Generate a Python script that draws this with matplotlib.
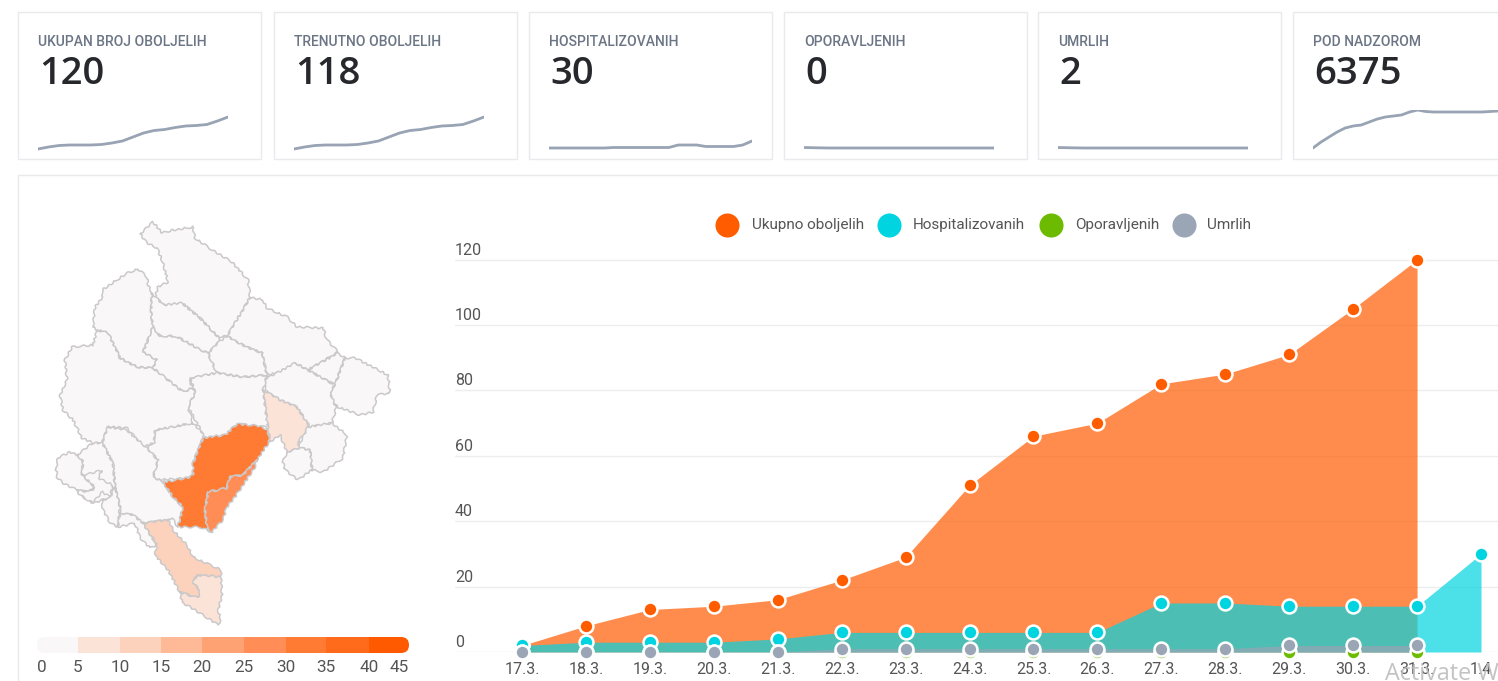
"""
Dashboard snapshot: six summary cards, a municipality map and the case history chart.
"""
import matplotlib
matplotlib.use("Agg")
import matplotlib.pyplot as plt
from matplotlib.patches import Polygon, Rectangle, FancyBboxPatch
from matplotlib.transforms import ScaledTranslation

plt.rcParams["font.family"] = ["Roboto", "DejaVu Sans"]

W, H = 1498, 681

# summary cards
CARD_LABELS = ["UKUPAN BROJ OBOLJELIH", "TRENUTNO OBOLJELIH", "HOSPITALIZOVANIH",
               "OPORAVLJENIH", "UMRLIH", "POD NADZOROM"]
CARD_VALUES = ["120", "118", "30", "0", "2", "6375"]
CARD_LEFT = [18, 274, 529, 784, 1038, 1293]
CARD_WIDTH = 243

# sparklines, height above the card's baseline
SPARK_TOTAL = [1, 3, 4.5, 5, 5, 5, 5.5, 7, 9, 13, 17, 19.5, 20.5, 22.5, 24, 24.5, 25.5, 29, 33]
SPARK_HOSP = [2, 2, 2, 2, 2, 2, 2, 2.5, 2.5, 2.5, 2.5, 2.5, 2.5, 2.5, 5, 5, 5, 3.5, 3.5, 3.5, 3.5, 5, 9]
SPARK_FLAT = [2.5, 2.2, 2, 2, 2, 2, 2, 2, 2, 2, 2, 2, 2, 2, 2, 2]
SPARK_WATCH = [2, 8, 13, 18, 22, 24, 25, 28, 31, 33, 34, 35, 38, 40, 38.5, 38, 38, 38, 38, 38, 38, 38, 38.5, 39]
SPARKS = [SPARK_TOTAL, SPARK_TOTAL, SPARK_HOSP, SPARK_FLAT, SPARK_FLAT, SPARK_WATCH]
SPARK_SPANS = [(38, 228), (294, 484), (549, 752), (804, 994), (1058, 1248), (1313, 1498)]

# history chart
DATES = ["17.3.", "18.3.", "19.3.", "20.3.", "21.3.", "22.3.", "23.3.", "24.3.",
         "25.3.", "26.3.", "27.3.", "28.3.", "29.3.", "30.3.", "31.3.", "1.4"]
TOTAL = [2, 8, 13, 14, 16, 22, 29, 51, 66, 70, 82, 85, 91, 105, 120]
HOSPITAL = [2, 3, 3, 3, 4, 6, 6, 6, 6, 6, 15, 15, 14, 14, 14, 30]
RECOVERED = [0, 0, 0, 0, 0, 0, 0, 0, 0, 0, 0, 0, 0, 0, 0]
DEAD = [0, 0, 0, 0, 0, 1, 1, 1, 1, 1, 1, 1, 2, 2, 2]
Y_TICKS = [0, 20, 40, 60, 80, 100, 120]

ORANGE = "#FF5C00"
CYAN = "#00D4E0"
GREEN = "#6CBB00"
GREY = "#9AA5B5"

SERIES_NAMES = ["Ukupno oboljelih", "Hospitalizovanih", "Oporavljenih", "Umrlih"]
SERIES_COLORS = [ORANGE, CYAN, GREEN, GREY]

# map scale
SCALE_TICKS = [0, 5, 10, 15, 20, 25, 30, 35, 40, 45]
SCALE_COLORS = ["#FAF7F8", "#FCE3D8", "#FDD2BD", "#FEB997", "#FEA274",
                "#FF8D55", "#FF7A33", "#FF6A1B", "#FF5A00"]
SCALE_EDGES = [37, 78, 120, 161, 202, 244, 286, 326, 369, 409]

# municipality outlines
PLJEVLJA = [(140, 234), (153, 222), (162, 233), (173, 230), (193, 227), (195, 238), (212, 250), (232, 262),
            (248, 280), (250, 297), (243, 310), (227, 336), (218, 337), (200, 318), (182, 303), (167, 307),
            (155, 297), (158, 287), (168, 282), (162, 260), (157, 248), (147, 243)]
PLUZINE = [(93, 327), (95, 307), (103, 297), (102, 290), (127, 273), (138, 269), (147, 277), (148, 285),
           (152, 293), (151, 310), (153, 327), (143, 352), (157, 360), (153, 368), (137, 367), (120, 358),
           (108, 333), (97, 330)]
SAVNIK = [(153, 327), (143, 352), (157, 360), (153, 368), (183, 392), (193, 388), (189, 380), (217, 373),
          (208, 353), (197, 348), (187, 342), (175, 336), (160, 336)]
ZABLJAK = [(152, 293), (163, 305), (182, 303), (200, 318), (218, 337), (219, 342), (208, 353), (197, 348),
           (187, 342), (175, 336), (160, 336), (153, 327), (151, 310)]
BIJELO_POLJE = [(227, 336), (243, 310), (250, 297), (263, 300), (267, 308), (287, 317), (297, 327), (323, 328),
                (327, 340), (338, 352), (308, 370), (295, 363), (292, 370), (267, 375), (262, 353), (247, 347),
                (233, 340)]
MOJKOVAC = [(208, 353), (219, 342), (227, 336), (233, 340), (247, 347), (262, 353), (267, 375), (243, 377),
            (217, 373)]
PETNJICA = [(308, 370), (338, 353), (345, 358), (335, 385), (322, 378)]
ROZAJE = [(345, 358), (355, 358), (388, 375), (390, 393), (377, 395), (373, 412), (360, 415), (338, 407),
          (332, 403), (330, 390), (335, 385)]
BERANE = [(263, 380), (277, 373), (295, 363), (308, 370), (335, 385), (330, 392), (336, 408), (332, 423),
          (310, 427), (297, 407), (280, 400), (267, 392)]
ANDRIJEVICA = [(263, 390), (267, 392), (280, 400), (297, 407), (310, 427), (298, 442), (300, 448), (287, 452),
               (280, 435), (270, 442), (268, 428)]
KOLASIN = [(190, 378), (217, 373), (243, 377), (267, 375), (263, 390), (268, 428), (260, 426), (237, 424),
           (225, 435), (203, 438), (202, 432), (188, 407), (195, 392)]
DANILOVGRAD = [(155, 430), (193, 423), (203, 433), (203, 438), (193, 463), (193, 475), (187, 478), (160, 480),
               (153, 477), (158, 460), (147, 448), (154, 442)]
NIKSIC = [(97, 330), (108, 333), (120, 358), (137, 367), (153, 368), (183, 392), (193, 388), (195, 393),
          (188, 407), (193, 423), (155, 430), (154, 443), (143, 447), (127, 428), (108, 427), (102, 443),
          (93, 443), (82, 438), (73, 420), (63, 410), (60, 395), (67, 380), (65, 360), (72, 347), (93, 345)]
CETINJE = [(102, 443), (108, 427), (127, 430), (147, 448), (158, 460), (153, 477), (163, 482), (173, 497),
           (183, 507), (178, 527), (172, 518), (168, 520), (143, 523), (133, 515), (120, 513), (120, 507),
           (115, 487), (113, 463), (105, 448)]
HERCEG_NOVI = [(56, 468), (58, 458), (70, 452), (77, 455), (83, 461), (82, 475), (90, 482), (95, 488),
               (88, 492), (77, 490), (63, 483), (57, 477)]
KOTOR = [(77, 455), (93, 443), (102, 443), (105, 448), (113, 463), (115, 487), (110, 498), (102, 500),
         (93, 503), (80, 495), (77, 490), (88, 492), (95, 488), (90, 482), (82, 475), (83, 461)]
BUDVA = [(102, 500), (110, 498), (115, 487), (120, 507), (118, 527), (110, 523), (103, 510)]
COAST_STRIP = [(120, 513), (133, 515), (143, 523), (157, 545), (150, 548), (140, 538), (135, 523), (118, 527)]
BAR = [(143, 523), (168, 520), (173, 530), (187, 545), (193, 557), (210, 565), (221, 570), (221, 577),
       (197, 575), (193, 583), (200, 590), (198, 598), (180, 592), (168, 570), (155, 555), (157, 545)]
ULCINJ = [(197, 575), (221, 577), (222, 597), (218, 610), (221, 620), (218, 625), (203, 615), (182, 602),
          (180, 592), (198, 598), (200, 590), (193, 583)]
PODGORICA = [(268, 430), (269, 442), (257, 460), (243, 475), (230, 477), (227, 488), (208, 492), (205, 510),
             (207, 527), (212, 532), (200, 527), (178, 527), (183, 507), (173, 497), (163, 482), (187, 478),
             (193, 475), (193, 463), (203, 438), (225, 435), (237, 424), (260, 426)]
TUZI = [(257, 460), (255, 467), (243, 485), (233, 500), (227, 507), (223, 520), (212, 532), (207, 527),
        (205, 510), (208, 492), (227, 488), (230, 477), (243, 475)]
PLAV = [(300, 443), (308, 427), (332, 423), (347, 435), (343, 458), (323, 472), (312, 470), (310, 450),
        (300, 448)]
GUSINJE = [(287, 452), (300, 448), (310, 450), (312, 470), (298, 480), (285, 470), (283, 462)]
BAY = [(82, 475), (93, 473), (102, 470), (98, 478), (113, 485), (110, 497), (102, 492), (93, 503), (80, 495),
       (77, 490), (88, 492), (95, 488), (90, 482)]

MAP_REGIONS = [PLJEVLJA, PLUZINE, SAVNIK, ZABLJAK, BIJELO_POLJE, MOJKOVAC, PETNJICA, ROZAJE, BERANE, ANDRIJEVICA,
               KOLASIN, DANILOVGRAD, NIKSIC, CETINJE, HERCEG_NOVI, KOTOR, BUDVA, COAST_STRIP, BAR, ULCINJ,
               PODGORICA, TUZI, PLAV, GUSINJE]
MAP_CASES = [0, 0, 0, 0, 0, 0, 0, 0, 0, 6, 0, 0, 0, 0, 0, 0, 0, 0, 11, 7, 32, 27, 0, 0]


def draw_cards(bg, fig):
    for left, label, value, spark, span in zip(CARD_LEFT, CARD_LABELS, CARD_VALUES, SPARKS, SPARK_SPANS):
        bg.add_patch(Rectangle((left, 12), CARD_WIDTH, 147, fc="white", ec="#E8EAEE", lw=1))
        bg.text(left + 20, 42, label, color="#6B7585", fontsize=10, weight="medium", va="center")
        bg.text(left + 21, 84, value, color="#26282C", fontsize=27.5, weight="semibold",
                family=["Open Sans", "DejaVu Sans"], va="baseline")

        # the sparkline sits in its own little axes
        sp = fig.add_axes([span[0] / W, 1 - 152 / H, (span[1] - span[0]) / W, 42 / H])
        sp.axis("off")
        sp.set_xlim(0, len(spark) - 1)
        sp.set_ylim(-2, 40)
        sp.plot(range(len(spark)), spark, color="#98A3B3", lw=2, solid_capstyle="round")


def draw_map(bg):
    for region, cases in zip(MAP_REGIONS, MAP_CASES):
        p = Polygon(region, closed=True, fc=SCALE_COLORS[cases // 5], ec="#CBC8C9", lw=1.1, joinstyle="round")
        p.set_sketch_params(scale=0.9, length=9, randomness=3)
        bg.add_patch(p)
    bay = Polygon(BAY, closed=True, fc=SCALE_COLORS[0], ec="#CBC8C9", lw=1.0)
    bay.set_sketch_params(scale=0.9, length=9, randomness=3)
    bg.add_patch(bay)

    # legend scale below the map
    clip = FancyBboxPatch((37 + 8, 637 + 8), 372 - 16, 16 - 16, boxstyle="round,pad=8", fc="none", ec="none")
    bg.add_patch(clip)
    for i, color in enumerate(SCALE_COLORS):
        seg = Rectangle((SCALE_EDGES[i], 637), SCALE_EDGES[i + 1] - SCALE_EDGES[i], 17, fc=color, ec="none")
        bg.add_patch(seg)
        seg.set_clip_path(clip)
    for tick, x in zip(SCALE_TICKS, SCALE_EDGES):
        if tick == 0:
            bg.text(42, 667, str(tick), color="#555", fontsize=12.3, ha="center", va="center")
        elif tick == 45:
            bg.text(399, 667, str(tick), color="#555", fontsize=12.3, ha="center", va="center")
        else:
            bg.text(x, 667, str(tick), color="#555", fontsize=12.3, ha="center", va="center")


def draw_legend(bg):
    for name, color, mx, tx in zip(SERIES_NAMES, SERIES_COLORS, [727, 889, 1051, 1184], [752, 913, 1075, 1207]):
        bg.scatter([mx], [225], s=300, color=color, lw=0, zorder=3)
        bg.text(tx, 225, name, color="#555", fontsize=11, va="center")


def draw_chart(fig):
    ax = fig.add_axes([455 / W, 1 - 652 / H, (W - 455) / W, (652 - 240) / H], facecolor="none")
    step = (1481 - 522) / 15
    ax.set_xlim((455 - 522) / step, (W - 522) / step)
    ax.set_ylim(0, (652 - 240) / 3.27)

    x = list(range(len(DATES)))
    ax.fill_between(x[:len(TOTAL)], TOTAL, color=ORANGE, alpha=0.7, lw=0, zorder=2)
    ax.fill_between(x[:len(HOSPITAL)], HOSPITAL, color=CYAN, alpha=0.7, lw=0, zorder=3)
    ax.fill_between(x[:len(DEAD)], DEAD, color=GREY, alpha=0.7, lw=0, zorder=4)

    series = [(TOTAL, ORANGE, 5), (HOSPITAL, CYAN, 6), (RECOVERED, GREEN, 7), (DEAD, GREY, 8)]
    for values, color, z in series:
        ax.plot(x[:len(values)], values, ls="none", marker="o", ms=10, mfc=color, mec="white", mew=1.8,
                clip_on=False, zorder=z)

    ax.set_yticks(Y_TICKS)
    ax.set_yticklabels([str(t) for t in Y_TICKS], color="#555", fontsize=11.5, ha="left", va="bottom")
    ax.set_xticks(x)
    ax.set_xticklabels(DATES, color="#555", fontsize=11.5)
    ax.tick_params(axis="y", length=0, pad=0)
    ax.tick_params(axis="x", length=0, pad=7.5)
    ax.grid(axis="y", color="#EDEDED", lw=1, zorder=1)
    ax.set_axisbelow(True)
    for spine in ax.spines.values():
        spine.set_visible(False)
    # labels sit a little above their gridlines
    for lab in ax.get_yticklabels():
        lab.set_transform(lab.get_transform() + ScaledTranslation(0, 1.5 / 72, fig.dpi_scale_trans))


fig = plt.figure(figsize=(W / 100, H / 100), dpi=100, facecolor="white")
bg = fig.add_axes([0, 0, 1, 1])
bg.set_xlim(0, W)
bg.set_ylim(H, 0)
bg.axis("off")

bg.add_patch(Rectangle((18, 175), W, H, fc="white", ec="#E8EAEE", lw=1))
draw_cards(bg, fig)
draw_map(bg)
draw_legend(bg)
draw_chart(fig)

# screenshot watermark
fig.text(1385 / W, 1 - 680 / H, "Activate W", color="#BDBDBD", fontsize=16.8,
         family=["Open Sans", "DejaVu Sans"], alpha=0.9, zorder=20)

fig.savefig("out.png", dpi=100, facecolor="white")
